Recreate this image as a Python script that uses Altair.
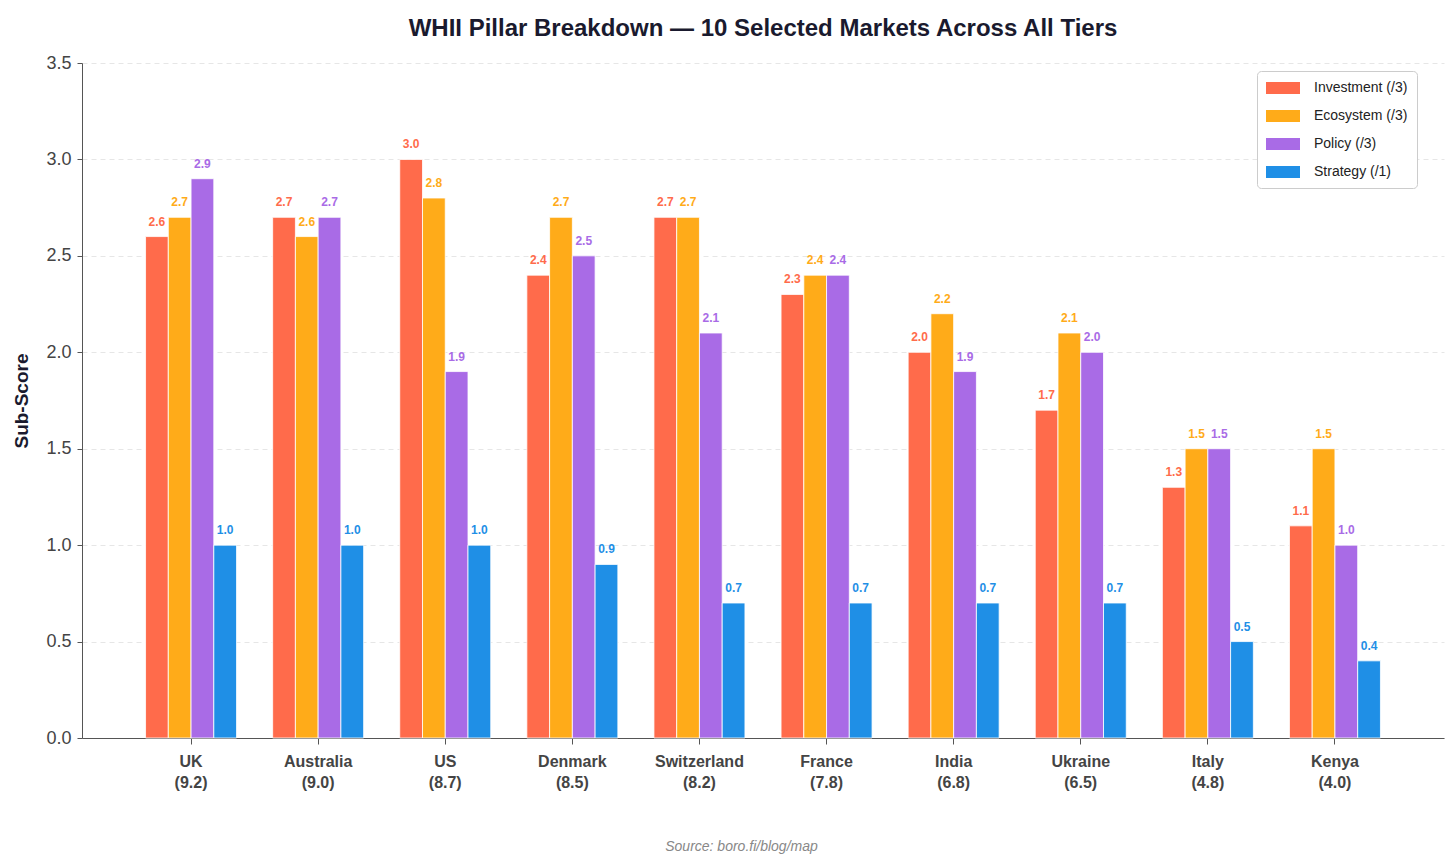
import altair as alt
import pandas as pd

countries = ["UK", "Australia", "US", "Denmark", "Switzerland", "France", "India", "Ukraine", "Italy", "Kenya"]
totals = [9.2, 9.0, 8.7, 8.5, 8.2, 7.8, 6.8, 6.5, 4.8, 4.0]
pillars = ["Investment (/3)", "Ecosystem (/3)", "Policy (/3)", "Strategy (/1)"]
investment = [2.6, 2.7, 3.0, 2.4, 2.7, 2.3, 2.0, 1.7, 1.3, 1.1]
ecosystem = [2.7, 2.6, 2.8, 2.7, 2.7, 2.4, 2.2, 2.1, 1.5, 1.5]
policy = [2.9, 2.7, 1.9, 2.5, 2.1, 2.4, 1.9, 2.0, 1.5, 1.0]
strategy = [1.0, 1.0, 1.0, 0.9, 0.7, 0.7, 0.7, 0.7, 0.5, 0.4]
colors = ["#FF6B4B", "#FFAB19", "#A96BE6", "#1F8FE6"]

series = [investment, ecosystem, policy, strategy]
rows = []
for i, c in enumerate(countries):
    lab = f"{c}\n({totals[i]:.1f})"
    for p, vals in zip(pillars, series):
        rows.append({"country": lab, "pillar": p, "value": vals[i]})
df = pd.DataFrame(rows)
labels = [f"{c}\n({t:.1f})" for c, t in zip(countries, totals)]

FONT = "Liberation Sans"

xenc = alt.X(
    "country:N",
    sort=labels,
    scale=alt.Scale(paddingInner=0.284, paddingOuter=0.5),
    axis=alt.Axis(
        title="Source: boro.fi/blog/map",
        titleFont=FONT, titleFontStyle="italic", titleFontWeight="normal",
        titleFontSize=14, titleColor="#888888",
        titleX=659, titleY=108, titleBaseline="middle",
        titleAnchor="middle", titleAlign="center",
        labelExpr="split(datum.label, '\\n')",
        labelAngle=0, labelFont=FONT, labelFontWeight="bold", labelFontSize=16,
        labelColor="#444444", labelLineHeight=21, labelPadding=9,
        tickSize=6, tickColor="#555555", domainColor="#555555", grid=False,
    ),
)
xoff = alt.XOffset("pillar:N", sort=pillars, scale=alt.Scale(paddingInner=0, paddingOuter=0))
yenc = alt.Y(
    "value:Q",
    scale=alt.Scale(domain=[0, 3.5], nice=False),
    axis=alt.Axis(
        title="Sub-Score", titleFont=FONT, titleFontSize=19, titleFontWeight="bold",
        titleColor="#1a1a2e", titlePadding=14,
        values=[0, 0.5, 1, 1.5, 2, 2.5, 3, 3.5], format=".1f",
        labelFont=FONT, labelFontSize=18, labelColor="#444444", labelPadding=6,
        tickSize=5, tickColor="#555555", domainColor="#555555",
        gridColor="#e6e6e6", gridDash=[5, 4], gridWidth=1,
    ),
)
cscale = alt.Scale(domain=pillars, range=colors)

bars = alt.Chart(df).mark_bar(stroke="white", strokeWidth=1, strokeOpacity=0.8).encode(
    x=xenc, xOffset=xoff, y=yenc,
    color=alt.Color(
        "pillar:N", scale=cscale, sort=pillars,
        legend=alt.Legend(
            title=None, orient="none", legendX=1175, legendY=8,
            labelFont=FONT, labelFontSize=14, labelColor="#222222",
            symbolType="M-1,-0.75L3.25,-0.75L3.25,0.75L-1,0.75Z", symbolSize=256,
            symbolStrokeWidth=0, labelOffset=32, rowPadding=13,
            padding=9, strokeColor="#cccccc", cornerRadius=4, fillColor="white",
        ),
    ),
)
texts = alt.Chart(df).mark_text(
    baseline="bottom", dy=-8, fontSize=12, fontWeight="bold", font=FONT
).encode(
    x=xenc, xOffset=xoff, y=yenc,
    text=alt.Text("value:Q", format=".1f"),
    color=alt.Color("pillar:N", scale=cscale, legend=None),
)

chart = alt.layer(bars, texts).resolve_legend(color="independent").properties(
    width=1362, height=675,
    autosize=alt.AutoSizeParams(type="none"),
    padding={"left": 74, "top": 55, "right": 2, "bottom": 120},
    title=alt.TitleParams(
        "WHII Pillar Breakdown — 10 Selected Markets Across All Tiers",
        font=FONT, fontSize=24, fontWeight="bold", color="#1a1a2e",
        anchor="middle", offset=13,
    ),
).configure_view(stroke=None)

chart.save("out.html", embed_options={"renderer": "svg", "actions": False})
